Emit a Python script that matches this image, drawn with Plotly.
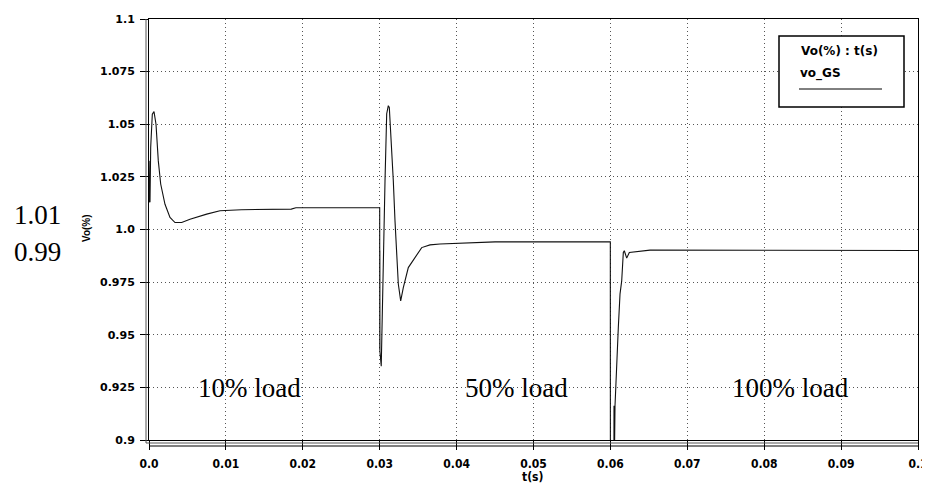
import plotly.graph_objects as go

# ---- data ----
t_s = [0.0, 0.00012, 0.00013, 0.00014, 0.00022, 0.00043, 0.00065, 0.00091, 0.00121, 0.00152,
       0.00208, 0.00273, 0.00338, 0.00425, 0.00533, 0.0075, 0.00923, 0.012, 0.015, 0.0185,
       0.0191, 0.02999,
       0.03, 0.03001, 0.03002, 0.03003, 0.0302, 0.03047, 0.03069, 0.03091, 0.03112, 0.03125,
       0.03156, 0.03177, 0.03199, 0.03221, 0.03242, 0.03273, 0.03307, 0.03372, 0.03459,
       0.03546, 0.03654, 0.03784, 0.045, 0.05999,
       0.06, 0.06045, 0.06047, 0.06049, 0.0606, 0.06082, 0.06103, 0.06125, 0.06147, 0.06168,
       0.06181, 0.06212, 0.06246, 0.06515, 0.1]
vo_GS = [1.0128, 1.0326, 1.013, 1.0326, 1.039, 1.0548, 1.056, 1.050, 1.0326, 1.0216,
         1.012, 1.0057, 1.0033, 1.0033, 1.0049, 1.0073, 1.0089, 1.0094, 1.0096, 1.0097,
         1.0103, 1.0103,
         1.0103, 0.943, 0.99, 0.942, 0.935, 0.9915, 1.023, 1.055, 1.0588, 1.058,
         1.039, 1.0231, 1.0041, 0.9851, 0.9741, 0.9661, 0.9724, 0.9819, 0.9867,
         0.9914, 0.9927, 0.9931, 0.9941, 0.9941,
         0.85, 0.85, 0.9163, 0.88, 0.9163, 0.9376, 0.9534, 0.9693, 0.9756, 0.9891,
         0.9899, 0.9864, 0.9891, 0.9902, 0.9900]

x_ticks = [0.0, 0.01, 0.02, 0.03, 0.04, 0.05, 0.06, 0.07, 0.08, 0.09, 0.1]
x_tick_text = ["0.0", "0.01", "0.02", "0.03", "0.04", "0.05", "0.06", "0.07", "0.08", "0.09", "0.1"]
y_ticks = [0.9, 0.925, 0.95, 0.975, 1.0, 1.025, 1.05, 1.075, 1.1]
y_tick_text = ["0.9", "0.925", "0.95", "0.975", "<span>1.0</span>", "1.025", "1.05", "1.075", "1.1"]

load_labels = ["10% load", "50% load", "100% load"]
load_label_x = [0.0131, 0.04785, 0.0834]
load_label_y = [0.9247, 0.9247, 0.9247]

side_labels = ["1.01", "0.99"]

fig = go.Figure()
fig.add_trace(go.Scatter(x=t_s, y=vo_GS, mode="lines", name="vo_GS",
                         line=dict(color="#111111", width=1.1), showlegend=False,
                         cliponaxis=True))

# The page body has an 8px margin, so the figure is drawn 8px in from the corner.
OFF = 8
W, H = 930, 489 - OFF
# plot area in page pixels: x 149..918, y 19..440
L, R, T, B = 149, 918, 19, 440
ml, mt = L - OFF, T - OFF
mr, mb = W - (R - OFF), H - (B - OFF)
pw, ph = R - L, B - T


def px(x):
    return (x - L) / pw


def py(y):
    return (B - y) / ph


tickfont_y = dict(family="DejaVu Sans, Liberation Sans, Arial", size=11, color="black", weight="bold")
tickfont_x = dict(family="DejaVu Sans Condensed, Liberation Sans Narrow, Arial", size=12,
                  color="black", weight="bold")

fig.update_layout(
    width=W, height=H,
    margin=dict(l=ml, r=mr, t=mt, b=mb, pad=0),
    paper_bgcolor="white", plot_bgcolor="white",
    xaxis=dict(range=[0, 0.1], tickmode="array", tickvals=x_ticks, ticktext=x_tick_text,
               tickfont=tickfont_x, automargin=False,
               showgrid=True, gridcolor="#555555", griddash="1px,3px", gridwidth=1,
               showline=True, linecolor="black", linewidth=1, mirror=True,
               ticks="outside", ticklen=9, tickcolor="black", ticklabelstandoff=4,
               zeroline=False),
    yaxis=dict(range=[0.9, 1.1], tickmode="array", tickvals=y_ticks, ticktext=y_tick_text,
               tickfont=tickfont_y, automargin=False,
               showgrid=True, gridcolor="#555555", griddash="1px,3px", gridwidth=1,
               showline=True, linecolor="black", linewidth=1, mirror=True,
               ticks="outside", ticklen=8, tickcolor="black", ticklabelstandoff=3,
               zeroline=False),
)

shapes = []
# double frame lines (left and bottom) and x-axis bracket
shapes.append(dict(type="line", xref="paper", yref="paper", x0=px(146), x1=px(146),
                   y0=py(443), y1=py(19), line=dict(color="#555555", width=1)))
shapes.append(dict(type="line", xref="paper", yref="paper", x0=px(146), x1=1,
                   y0=py(443), y1=py(443), line=dict(color="#555555", width=1)))
shapes.append(dict(type="line", xref="paper", yref="paper", x0=0, x1=1,
                   y0=py(446), y1=py(446), line=dict(color="black", width=1)))
# legend box
shapes.append(dict(type="rect", xref="paper", yref="paper", x0=px(779), x1=px(904),
                   y0=py(107), y1=py(36), line=dict(color="black", width=1.5),
                   fillcolor="white", layer="above"))
shapes.append(dict(type="line", xref="paper", yref="paper", x0=px(799), x1=px(882),
                   y0=py(89), y1=py(89), line=dict(color="black", width=1), layer="above"))
fig.update_layout(shapes=shapes)

bold_leg = dict(family="DejaVu Sans, Liberation Sans, Arial", size=12, color="black", weight="bold")
bold_ylab = dict(family="Liberation Sans, Arial", size=10, color="black", weight="bold")
serif = dict(family="Liberation Serif, Times New Roman", size=27, color="black")

ann = []
ann.append(dict(xref="paper", yref="paper", x=px(839), y=py(51), text="Vo(%) : t(s)",
                 xanchor="center", yanchor="middle", showarrow=False, font=bold_leg))
ann.append(dict(xref="paper", yref="paper", x=px(798), y=py(73), text="vo_GS",
                 xanchor="left", yanchor="middle", showarrow=False, font=bold_leg))
ann.append(dict(xref="paper", yref="paper", x=px(86), y=py(228), text="Vo(%)", textangle=-90,
                 xanchor="center", yanchor="middle", showarrow=False, font=bold_ylab))
ann.append(dict(xref="paper", yref="paper", x=px(533), y=py(477), text="t(s)",
                 xanchor="center", yanchor="middle", showarrow=False,
                 font=dict(family="DejaVu Sans Condensed, Liberation Sans Narrow, Arial", size=12,
                           color="black", weight="bold")))
for txt, yy in zip(side_labels, [215, 252]):
    ann.append(dict(xref="paper", yref="paper", x=px(37), y=py(yy), text=txt, showarrow=False,
                     xanchor="center", yanchor="middle", font=serif))
for txt, lx, ly in zip(load_labels, load_label_x, load_label_y):
    ann.append(dict(x=lx, y=ly, text=txt, showarrow=False, xanchor="center", yanchor="middle",
                     font=serif))
fig.update_layout(annotations=ann)

fig.write_html("out.html")
